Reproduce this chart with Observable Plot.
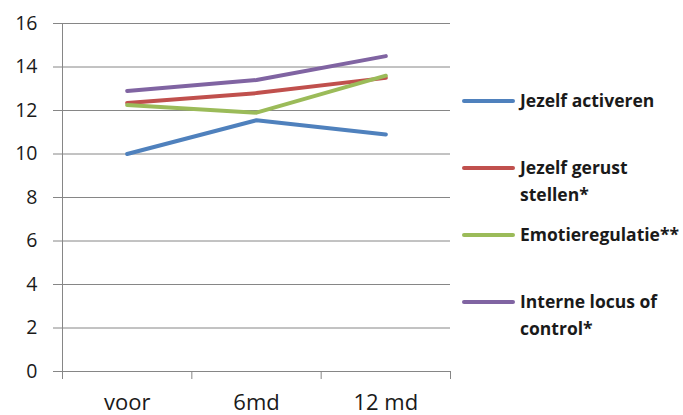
<!DOCTYPE html>
<html>
<head>
<meta charset="utf-8">
<script src="https://cdn.jsdelivr.net/npm/d3@7"></script>
<script src="https://cdn.jsdelivr.net/npm/@observablehq/plot@0.6"></script>
<style>
  html, body { margin: 0; padding: 0; background: #fff; }
  #wrap { position: relative; width: 683px; height: 415px; overflow: hidden; font-family: "Open Sans", sans-serif; }
  #chart { position: absolute; left: 0; top: 0; }
  #legend { position: absolute; left: 462px; top: 87px; }
  .item { display: flex; align-items: flex-start; height: 67px; }
  .sw { width: 53px; height: 4px; border-radius: 2px; margin-top: 12px; margin-right: 5px; flex: none; }
  .lab { font-weight: 700; font-size: 17.5px; line-height: 27px; color: #1a1a1a; white-space: nowrap; }
</style>
</head>
<body>
<div id="wrap">
  <div id="chart"></div>
  <div id="legend"></div>
</div>
<script>
const categories = ["voor", "6md", "12 md"];
const seriesNames = ["Jezelf activeren", "Jezelf gerust stellen*", "Emotieregulatie**", "Interne locus of control*"];
const legendLines = [["Jezelf activeren"], ["Jezelf gerust", "stellen*"], ["Emotieregulatie**"], ["Interne locus of", "control*"]];
const seriesColors = ["#4F81BD", "#C0504D", "#9BBB59", "#8064A2"];
const jezelfActiveren = [10.0, 11.55, 10.9];
const jezelfGerustStellen = [12.35, 12.8, 13.5];
const emotieregulatie = [12.25, 11.9, 13.6];
const interneLocus = [12.9, 13.4, 14.5];
const yTicks = [0, 2, 4, 6, 8, 10, 12, 14, 16];

const seriesValues = [jezelfActiveren, jezelfGerustStellen, emotieregulatie, interneLocus];
const rows = [];
seriesValues.forEach((vals, s) => {
  vals.forEach((v, i) => rows.push({series: seriesNames[s], pos: i + 0.5, value: v}));
});
const boundaries = d3.range(categories.length + 1);
const centers = categories.map((c, i) => i + 0.5);

const grid = "#868686";
const chart = Plot.plot({
  width: 460,
  height: 415,
  marginLeft: 62,
  marginRight: 10,
  marginTop: 23,
  marginBottom: 44,
  style: {fontFamily: "'Open Sans', sans-serif", background: "transparent"},
  x: {domain: [0, categories.length], axis: null, label: null},
  y: {domain: [0, 16], axis: null, label: null},
  color: {domain: seriesNames, range: seriesColors},
  marks: [
    Plot.ruleY(yTicks, {stroke: grid, strokeWidth: 1}),
    Plot.ruleX([0], {stroke: grid, strokeWidth: 1}),
    Plot.axisY({ticks: yTicks, tickSize: 9, tickPadding: 16, stroke: grid, fill: "#1a1a1a", fontSize: 19.5, label: null}),
    Plot.axisX({ticks: boundaries, tickSize: 8, tickFormat: () => "", stroke: grid, label: null}),
    Plot.axisX({ticks: centers, tickSize: 0, tickPadding: 23, tickFormat: d => categories[Math.floor(d)], fill: "#1a1a1a", fontSize: 22, label: null}),
    Plot.line(rows, {x: "pos", y: "value", z: "series", stroke: "series", strokeWidth: 4, strokeLinecap: "round", strokeLinejoin: "round"})
  ]
});
document.getElementById("chart").appendChild(chart);

const legend = document.getElementById("legend");
legendLines.forEach((lines, i) => {
  const item = document.createElement("div");
  item.className = "item";
  const sw = document.createElement("div");
  sw.className = "sw";
  sw.style.background = seriesColors[i];
  const lab = document.createElement("div");
  lab.className = "lab";
  lab.innerHTML = lines.join("<br>");
  item.appendChild(sw);
  item.appendChild(lab);
  legend.appendChild(item);
});
</script>
</body>
</html>
